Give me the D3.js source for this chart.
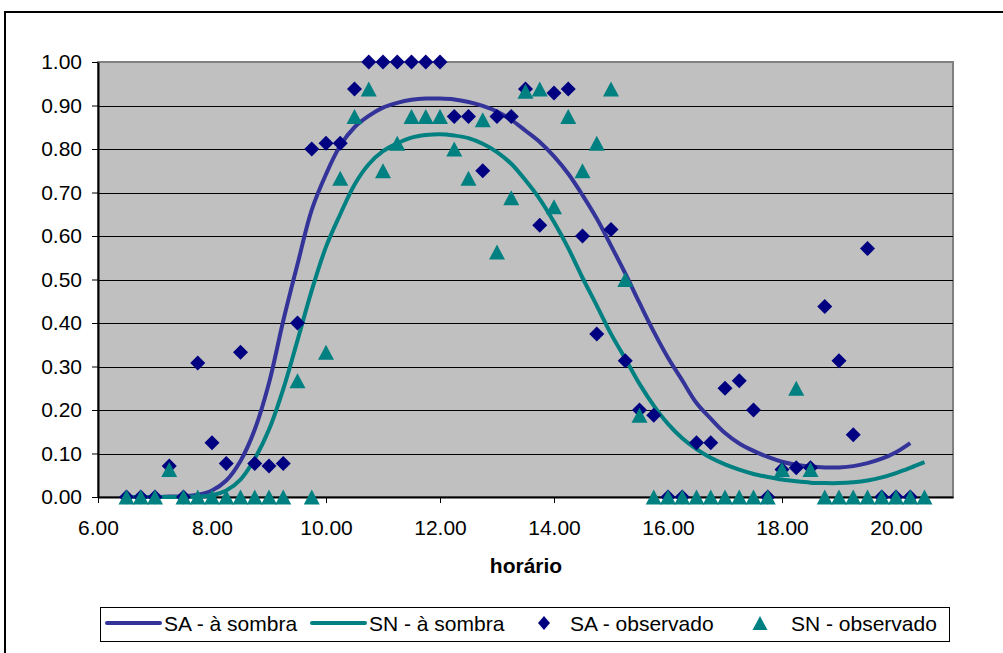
<!DOCTYPE html>
<html>
<head>
<meta charset="utf-8">
<script src="https://cdn.jsdelivr.net/npm/d3@7"></script>
<style>
  body { margin: 0; background: #fff; }
  svg { display: block; }
  text { font-family: "Liberation Sans", Arial, sans-serif; }
</style>
</head>
<body>
<svg id="chart" width="1003" height="653"></svg>
<script>
// Time of day (decimal hours), 15-minute steps
const hours = [
  6.5, 6.75, 7, 7.25, 7.5, 7.75, 8, 8.25, 8.5, 8.75,
  9, 9.25, 9.5, 9.75, 10, 10.25, 10.5, 10.75, 11, 11.25,
  11.5, 11.75, 12, 12.25, 12.5, 12.75, 13, 13.25, 13.5, 13.75,
  14, 14.25, 14.5, 14.75, 15, 15.25, 15.5, 15.75, 16, 16.25,
  16.5, 16.75, 17, 17.25, 17.5, 17.75, 18, 18.25, 18.5, 18.75,
  19, 19.25, 19.5, 19.75, 20, 20.25, 20.5
];

// Observed fraction in shade (SA ends at 20.25, SN at 20.5)
const saObserved = [
  0, 0, 0, 0.071, 0, 0.308, 0.125, 0.077, 0.333, 0.077,
  0.071, 0.077, 0.400, 0.800, 0.813, 0.813, 0.938, 1, 1, 1,
  1, 1, 1, 0.875, 0.875, 0.750, 0.875, 0.875, 0.938, 0.625,
  0.929, 0.938, 0.600, 0.375, 0.615, 0.313, 0.200, 0.188, 0, 0,
  0.125, 0.125, 0.250, 0.267, 0.200, 0, 0.063, 0.067, 0.067, 0.438,
  0.313, 0.143, 0.571, 0, 0, 0
];
const snObserved = [
  0, 0, 0, 0.063, 0, 0, 0, 0, 0, 0,
  0, 0, 0.267, 0, 0.333, 0.733, 0.875, 0.938, 0.750, 0.813,
  0.875, 0.875, 0.875, 0.800, 0.733, 0.867, 0.563, 0.688, 0.933, 0.938,
  0.667, 0.875, 0.750, 0.813, 0.938, 0.500, 0.188, 0, 0, 0,
  0, 0, 0, 0, 0, 0, 0.063, 0.250, 0.063, 0,
  0, 0, 0, 0, 0, 0, 0
];

// Modelled fraction in shade
const saShade = [
  0.000, 0.000, 0.000, 0.001, 0.002, 0.005, 0.015, 0.038, 0.083, 0.155,
  0.262, 0.405, 0.535, 0.660, 0.742, 0.808, 0.850, 0.876, 0.895, 0.906,
  0.913, 0.916, 0.916, 0.914, 0.908, 0.899, 0.886, 0.867, 0.842, 0.816,
  0.783, 0.743, 0.694, 0.640, 0.578, 0.514, 0.446, 0.380, 0.320, 0.268,
  0.216, 0.180, 0.147, 0.123, 0.106, 0.092, 0.081, 0.074, 0.070, 0.068,
  0.068, 0.071, 0.078, 0.088, 0.103, 0.124
];
const snShade = [
  0.000, 0.000, 0.000, 0.000, 0.000, 0.001, 0.004, 0.015, 0.040, 0.088,
  0.155, 0.248, 0.360, 0.475, 0.575, 0.650, 0.718, 0.765, 0.795, 0.813,
  0.826, 0.832, 0.834, 0.831, 0.825, 0.812, 0.793, 0.766, 0.728, 0.685,
  0.632, 0.572, 0.504, 0.440, 0.375, 0.318, 0.260, 0.210, 0.168, 0.135,
  0.110, 0.090, 0.075, 0.063, 0.053, 0.046, 0.040, 0.036, 0.033, 0.032,
  0.032, 0.034, 0.038, 0.045, 0.055, 0.067, 0.080
];

const xTicks = [6, 8, 10, 12, 14, 16, 18, 20];
const yTicks = [0, 0.1, 0.2, 0.3, 0.4, 0.5, 0.6, 0.7, 0.8, 0.9, 1.0];
const xTitle = "horário";
const seriesNames = ["SA - à sombra", "SN - à sombra", "SA - observado", "SN - observado"];

const colors = {
  saLine: "#333399",
  snLine: "#008080",
  saMark: "#000080",
  snMark: "#008080",
  plotBg: "#c0c0c0"
};

const svg = d3.select("#chart");
const W = 1003, H = 653;
const plot = { left: 98, right: 953, top: 62, bottom: 497 };

svg.append("rect").attr("width", W).attr("height", H).attr("fill", "#fff");
// chart frame
svg.append("rect")
  .attr("x", 5).attr("y", 12).attr("width", W + 20).attr("height", H + 20)
  .attr("fill", "none").attr("stroke", "#000").attr("stroke-width", 2);

const x = d3.scaleLinear().domain([6, 21]).range([plot.left, plot.right]);
const y = d3.scaleLinear().domain([0, 1]).range([plot.bottom, plot.top]);

// plot area
svg.append("rect")
  .attr("x", plot.left).attr("y", plot.top)
  .attr("width", plot.right - plot.left).attr("height", plot.bottom - plot.top)
  .attr("fill", colors.plotBg).attr("stroke", "#808080").attr("stroke-width", 2);

// horizontal gridlines
svg.append("g").selectAll("line")
  .data(yTicks.filter(d => d > 0 && d < 1))
  .join("line")
  .attr("x1", plot.left).attr("x2", plot.right)
  .attr("y1", d => Math.round(y(d)) + 0.5).attr("y2", d => Math.round(y(d)) + 0.5)
  .attr("stroke", "#000").attr("stroke-width", 1);

const fmt = d3.format(".2f");

const xAxis = svg.append("g")
  .attr("transform", `translate(0,${plot.bottom})`)
  .call(d3.axisBottom(x).tickValues(xTicks).tickFormat(fmt).tickSizeInner(6).tickSizeOuter(0).tickPadding(18));
const yAxis = svg.append("g")
  .attr("transform", `translate(${plot.left},0)`)
  .call(d3.axisLeft(y).tickValues(yTicks).tickFormat(fmt).tickSizeInner(6).tickSizeOuter(0).tickPadding(10));

[xAxis, yAxis].forEach(g => {
  g.select(".domain").attr("stroke", "#000").attr("stroke-width", 2);
  g.selectAll(".tick line").attr("stroke", "#000").attr("stroke-width", 1);
  g.selectAll(".tick text")
    .attr("fill", "#000")
    .style("font-family", '"Liberation Sans", Arial, sans-serif')
    .style("font-size", "21px");
});
xAxis.selectAll(".tick text").attr("dy", null).attr("y", 6 + 18 + 14);

svg.append("text")
  .attr("x", 526).attr("y", 573)
  .attr("text-anchor", "middle")
  .style("font-size", "21px").style("font-weight", "bold")
  .text(xTitle);

// modelled curves
const line = d3.line()
  .x(d => x(d[0])).y(d => y(d[1]))
  .curve(d3.curveCatmullRom.alpha(0.5));

const saCurve = saShade.map((v, i) => [hours[i], v]);
const snCurve = snShade.map((v, i) => [hours[i], v]);

svg.append("path").datum(saCurve)
  .attr("d", line).attr("fill", "none")
  .attr("stroke", colors.saLine).attr("stroke-width", 4).attr("stroke-linejoin", "round");
svg.append("path").datum(snCurve)
  .attr("d", line).attr("fill", "none")
  .attr("stroke", colors.snLine).attr("stroke-width", 4).attr("stroke-linejoin", "round");

// marker shapes
const diamond = (r) => `M0,${-r}L${r},0L0,${r}L${-r},0Z`;
const triangle = (w, h) => `M0,${-h / 2}L${w / 2},${h / 2}L${-w / 2},${h / 2}Z`;

svg.append("g").selectAll("path")
  .data(saObserved.map((v, i) => [hours[i], v]))
  .join("path")
  .attr("transform", d => `translate(${x(d[0])},${y(d[1])})`)
  .attr("d", diamond(7.5))
  .attr("fill", colors.saMark);

svg.append("g").selectAll("path")
  .data(snObserved.map((v, i) => [hours[i], v]))
  .join("path")
  .attr("transform", d => `translate(${x(d[0])},${y(d[1])})`)
  .attr("d", triangle(16, 15))
  .attr("fill", colors.snMark);

// legend
const lg = svg.append("g");
lg.append("rect")
  .attr("x", 100.5).attr("y", 607.5).attr("width", 849).attr("height", 34)
  .attr("fill", "#fff").attr("stroke", "#000").attr("stroke-width", 1);

const ly = 623;
const legendItems = [
  { kind: "line", color: colors.saLine, x0: 107, x1: 160, tx: 164 },
  { kind: "line", color: colors.snLine, x0: 312, x1: 365, tx: 369 },
  { kind: "diamond", color: colors.saMark, cx: 544, tx: 570 },
  { kind: "triangle", color: colors.snMark, cx: 760, tx: 791 }
];
legendItems.forEach((it, i) => {
  if (it.kind === "line") {
    lg.append("line")
      .attr("x1", it.x0).attr("x2", it.x1).attr("y1", ly).attr("y2", ly)
      .attr("stroke", it.color).attr("stroke-width", 4).attr("stroke-linecap", "round");
  } else if (it.kind === "diamond") {
    lg.append("path").attr("transform", `translate(${it.cx},${ly})`)
      .attr("d", `M0,-7L6,0L0,7L-6,0Z`).attr("fill", it.color);
  } else {
    lg.append("path").attr("transform", `translate(${it.cx},${ly})`)
      .attr("d", triangle(15, 14)).attr("fill", it.color);
  }
  lg.append("text")
    .attr("x", it.tx).attr("y", 631)
    .style("font-size", "21px")
    .text(seriesNames[i]);
});
</script>
</body>
</html>
